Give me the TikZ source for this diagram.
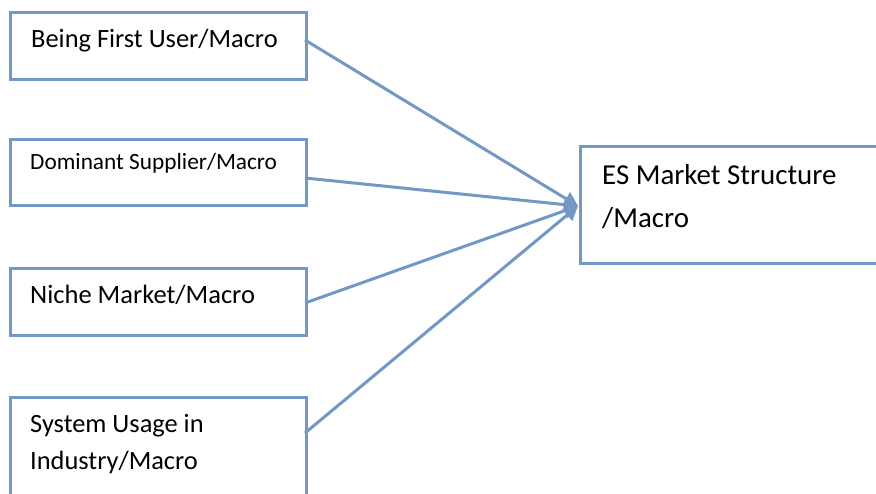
\documentclass[tikz,border=0pt]{standalone}
\usepackage{fontspec}
\setmainfont{Carlito}
\usetikzlibrary{arrows.meta}
\definecolor{edgeblue}{RGB}{114,153,196}
\begin{document}
\begin{tikzpicture}[x=1pt,y=-1pt,
  box/.style={draw=edgeblue, line width=3pt, fill=white, inner sep=0pt, anchor=north west},
  txt/.style={anchor=base west, inner sep=0pt, text=black},
  link/.style={draw=edgeblue, line width=3pt, -{Triangle[length=14pt,width=15pt]}}]
  \useasboundingbox (0,0) rectangle (876,493);
  \begin{scope}
    \clip (0,0) rectangle (876,493);
    % factor boxes
    \node[box, minimum width=296pt, minimum height=67pt] (b1) at (9,11) {};
    \node[box, minimum width=296pt, minimum height=66pt] (b2) at (9,138) {};
    \node[box, minimum width=296pt, minimum height=67pt] (b3) at (9,267) {};
    \node[box, minimum width=296pt, minimum height=110pt] (b4) at (9,396) {};
    % outcome box
    \node[box, minimum width=320pt, minimum height=117pt] (es) at (579,145) {};
  \end{scope}
  % labels
  \node[txt, font=\fontsize{26.4}{30}\selectfont] (t1) at (31,47) {Being First User/Macro};
  \node[txt, font=\fontsize{23.3}{28}\selectfont] (t2) at (30,169) {Dominant Supplier/Macro};
  \node[txt, font=\fontsize{26.5}{30}\selectfont] (t3) at (30,303) {Niche Market/Macro};
  \node[txt, font=\fontsize{26.4}{30}\selectfont] (t4a) at (30,432) {System Usage in};
  \node[txt, font=\fontsize{26.4}{30}\selectfont] (t4b) at (30,469) {Industry/Macro};
  \node[txt, font=\fontsize{28.9}{34}\selectfont] (t5a) at (602,184) {ES Market Structure};
  \node[txt, font=\fontsize{28.9}{34}\selectfont] (t5b) at (602,227) {/Macro};
  % connector ends
  \coordinate (o1) at (305,40);
  \coordinate (o2) at (305,178);
  \coordinate (o3) at (305,303);
  \coordinate (o4) at (305,433);
  \coordinate (tip) at (578,206);
  \draw[link] (o1) -- (tip);
  \draw[link] (o2) -- (tip);
  \draw[link] (o3) -- (tip);
  \draw[link] (o4) -- (tip);
\end{tikzpicture}
\end{document}
